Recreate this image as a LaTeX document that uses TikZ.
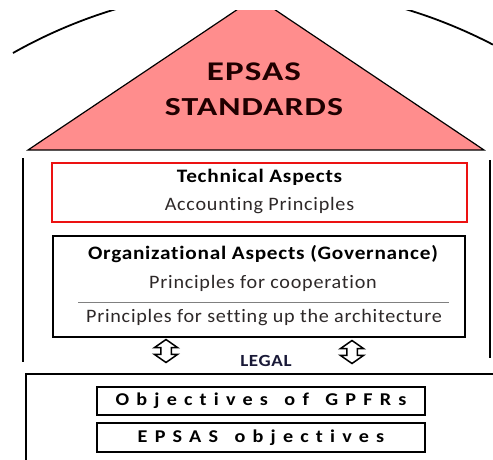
\documentclass[tikz,border=0pt]{standalone}
\usepackage{fontspec}
\setmainfont{Carlito}
\newfontfamily\bodyfont[Ligatures={NoCommon,NoContextual}, LetterSpace=4, FakeStretch=1.06, BoldFeatures={FakeStretch=1.12}]{Carlito}
\newfontfamily\rooffont[LetterSpace=4, BoldFeatures={FakeStretch=1.3}]{Carlito}
\newfontfamily\spreadfont[Ligatures={NoCommon,NoContextual}, LetterSpace=40, WordSpace=1.4, BoldFeatures={FakeStretch=1.12}]{Carlito}
\usetikzlibrary{shapes.arrows}

\definecolor{roof}{RGB}{255,141,141}
\definecolor{techred}{RGB}{236,18,18}
\definecolor{ink}{RGB}{45,40,40}
\definecolor{legalblue}{RGB}{25,25,55}

\tikzset{
  roofword/.style={font=\rooffont\fontsize{26}{30}\selectfont\bfseries, text=black!88!red},
  aspect/.style={draw, line width=2pt, inner sep=0pt},
  title/.style={font=\bodyfont\fontsize{19}{23}\selectfont\bfseries},
  plain/.style={font=\bodyfont\fontsize{19}{23}\selectfont, text=ink},
  goal/.style={draw, line width=1.5pt, minimum width=328, minimum height=28, inner sep=0pt,
    font=\spreadfont\fontsize{18}{21}\selectfont\bfseries},
  updown/.style={double arrow, draw, line width=1.5pt, rotate=90, minimum height=23, minimum width=22,
    inner sep=0pt, inner ysep=4.5pt, double arrow head extend=6.5pt, double arrow tip angle=110}
}

\begin{document}
\begin{tikzpicture}[x=1pt,y=-1pt]
\useasboundingbox (0,0) rectangle (493,459);
\clip (0,10) rectangle (493,459);

% roof
\draw [line width=1.8pt] (13,53) arc [start angle=-119.5, end angle=-62.5, radius=503];
\draw [line width=1.2pt, fill=roof] (28,150) -- (256,-3) -- (484,150) -- cycle;
\node [roofword, font=\rooffont\fontsize{27}{30}\selectfont\bfseries\addfontfeature{FakeStretch=1.47}] (epsas) at (254,72) {EPSAS};
\node [roofword] (standards) at (254,107) {STANDARDS};

% walls
\draw [line width=2.5pt] (23,158) -- (23,362);
\draw [line width=2.5pt] (490,160) -- (490,358);

% technical aspects
\node [aspect, draw=techred, minimum width=415, minimum height=59] (tech) at (259.5,192.5) {};
\node [title] (techtitle) at (259.5,177) {Technical Aspects};
\node [plain] (techsub) at (259.5,206) {Accounting Principles};

% organizational aspects
\node [aspect, minimum width=412, minimum height=101] (org) at (259,286.5) {};
\node [title] (orgtitle) at (263,254) {Organizational Aspects (Governance)};
\node [plain] (coop) at (263,283) {Principles for cooperation};
\draw [gray, line width=0.8pt] (78,302) -- (449,302);
\node [plain] (arch) at (264,318) {Principles for setting up the architecture};

% legal
\node [updown] (larrow) at (166,351) {};
\node [updown] (rarrow) at (352,352) {};
\node [font=\bodyfont\fontsize{17}{19}\selectfont\bfseries, text=legalblue] (legal) at (266,361) {LEGAL};

% objectives
\draw [line width=2.5pt] (26,480) -- (26,374) -- (494,374) -- (494,480);
\node [goal] (gpfr) at (261,401) {Objectives of GPFRs};
\node [goal, minimum height=29] (epsasobj) at (261,437.5) {EPSAS objectives};

\end{tikzpicture}
\end{document}
